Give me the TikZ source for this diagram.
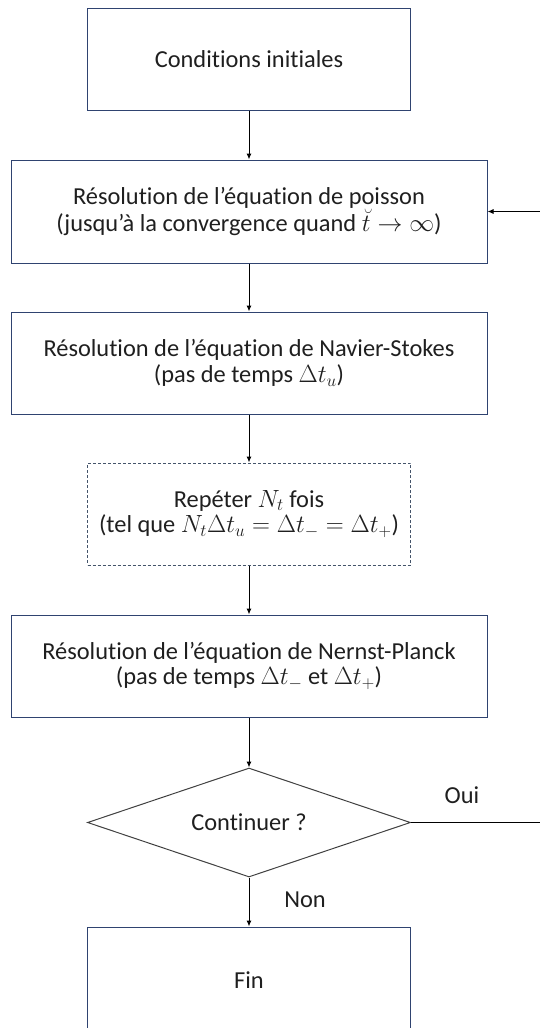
\documentclass[tikz,border=0pt]{standalone}
\usepackage{fontspec}
\setmainfont[Ligatures=NoCommon]{Carlito}
\usetikzlibrary{shapes.geometric,arrows.meta}
\definecolor{boxc}{HTML}{2F4370}
\definecolor{diamc}{HTML}{404040}
\definecolor{dashc}{HTML}{44546A}
\definecolor{txt}{HTML}{1F1F1F}
\tikzset{
  box/.style={draw=boxc, line width=1pt, rectangle, align=center, inner sep=0pt, text=txt},
  wide/.style={box, minimum width=476pt, minimum height=102pt},
  narrow/.style={box, minimum width=323pt, minimum height=102pt},
  dashbox/.style={box, draw=dashc, dash pattern=on 3pt off 2pt},
  decision/.style={diamond, draw=diamc, line width=1pt, inner sep=0pt, minimum width=323pt, minimum height=109pt, aspect=2.96, text=txt},
  conn/.style={draw=black, line width=1pt, -{Latex[length=6pt,width=5pt]}},
  plain/.style={draw=black, line width=1pt},
  lbl/.style={text=txt, inner sep=0pt}
}
\begin{document}
\begin{tikzpicture}[x=1pt,y=-1pt,font=\fontsize{24.4}{25.5}\selectfont]
\useasboundingbox (0,0) rectangle (540,1028);
\node[narrow] (c1) at (249,59) {Conditions initiales};
\node[wide, minimum height=103pt] (c2) at (249,211.5) {Résolution de l’équation de poisson\\(jusqu’à la convergence quand $\breve{t}\rightarrow\infty$)};
\node[wide] (c3) at (249,363) {Résolution de l’équation de Navier-Stokes\\(pas de temps $\Delta t_u$)};
\node[narrow, dashbox] (rep) at (249,514) {Repéter $N_t$ fois\\(tel que $N_t\Delta t_u=\Delta t_-=\Delta t_+$)};
\node[wide] (c4) at (249,666) {Résolution de l’équation de Nernst-Planck\\(pas de temps $\Delta t_-$ et $\Delta t_+$)};
\node[decision] (dec) at (249,822.5) {Continuer ?};
\node[box, minimum width=323pt, minimum height=106pt] (fin) at (249,980) {Fin};
\node[lbl] (oui) at (462,795) {Oui};
\node[lbl] (non) at (305,900) {Non};
\coordinate (r1) at (541,822.5);
\coordinate (r2) at (541,211.5);
\draw[conn] (c1) -- (c2);
\draw[conn] (c2) -- (c3);
\draw[conn] (c3) -- (rep);
\draw[conn] (rep) -- (c4);
\draw[conn] (c4) -- (dec);
\draw[conn] (dec) -- (fin);
\draw[plain] (dec.east) -- (r1);
\draw[conn] (r2) -- (c2.east);
\end{tikzpicture}
\end{document}
